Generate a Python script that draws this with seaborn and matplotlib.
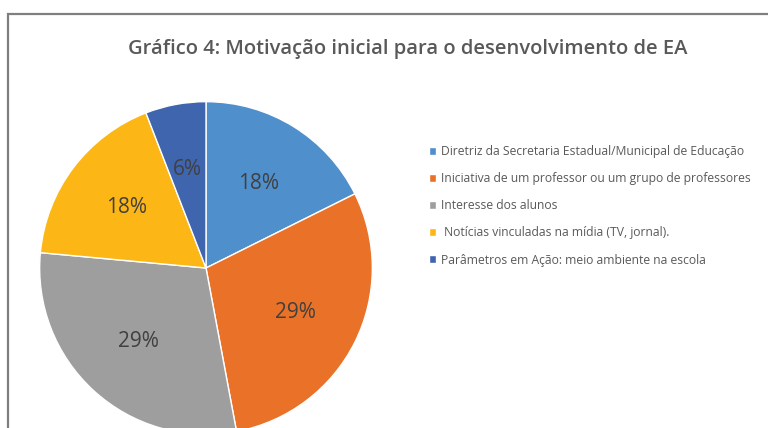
import matplotlib.pyplot as plt
import seaborn as sns
from matplotlib.patches import Rectangle

# dados do gráfico (3, 5, 5, 3, 1 respostas -> 18%, 29%, 29%, 18%, 6%)
categorias = [
    'Diretriz da Secretaria Estadual/Municipal de Educação',
    'Iniciativa de um professor ou um grupo de professores',
    'Interesse dos alunos',
    ' Notícias vinculadas na mídia (TV, jornal).',
    'Parâmetros em Ação: meio ambiente na escola',
]
respostas = [3, 5, 5, 3, 1]
cores = ['#4F8FCC', '#EA7228', '#9E9E9E', '#FCB716', '#3F65AF']

sns.set_theme(style='white')
plt.rcParams['font.family'] = ['Open Sans', 'DejaVu Sans']

fig = plt.figure(figsize=(7.68, 4.28), dpi=100)

# moldura cinza do gráfico (cortada à direita e embaixo)
fig.patches.append(Rectangle((8 / 768, -0.2), 1.5, 1.2 - 14 / 428, transform=fig.transFigure,
                             fill=False, edgecolor='#7f7f7f', linewidth=1.6))

ax = fig.add_axes([(206 - 168) / 768, (428 - 268 - 168) / 428, 336 / 768, 336 / 428])
wedges, textos, pct = ax.pie(respostas, colors=sns.color_palette(cores), startangle=90,
                             counterclock=False, autopct='%1.0f%%', pctdistance=0.6,
                             wedgeprops=dict(edgecolor='white', linewidth=1),
                             textprops=dict(fontsize=15, color='#404040'))
ax.set_xlim(-1.01, 1.01)
ax.set_ylim(-1.01, 1.01)
ax.set_aspect('equal')

fig.text(408 / 768, 1 - 49 / 428, 'Gráfico 4: Motivação inicial para o desenvolvimento de EA',
         ha='center', va='center', fontsize=14.5, fontweight='semibold', color='#595959')

# legenda um pouco menor para caber inteira na figura
fig.legend(wedges, categorias, loc='upper left', bbox_to_anchor=(423 / 768, 1 - 139 / 428),
           frameon=False, fontsize=8.7, labelcolor='#595959', handlelength=0.6, handleheight=0.6,
           handletextpad=0.35, labelspacing=1.17, borderpad=0)

fig.savefig('out.png', dpi=100)
